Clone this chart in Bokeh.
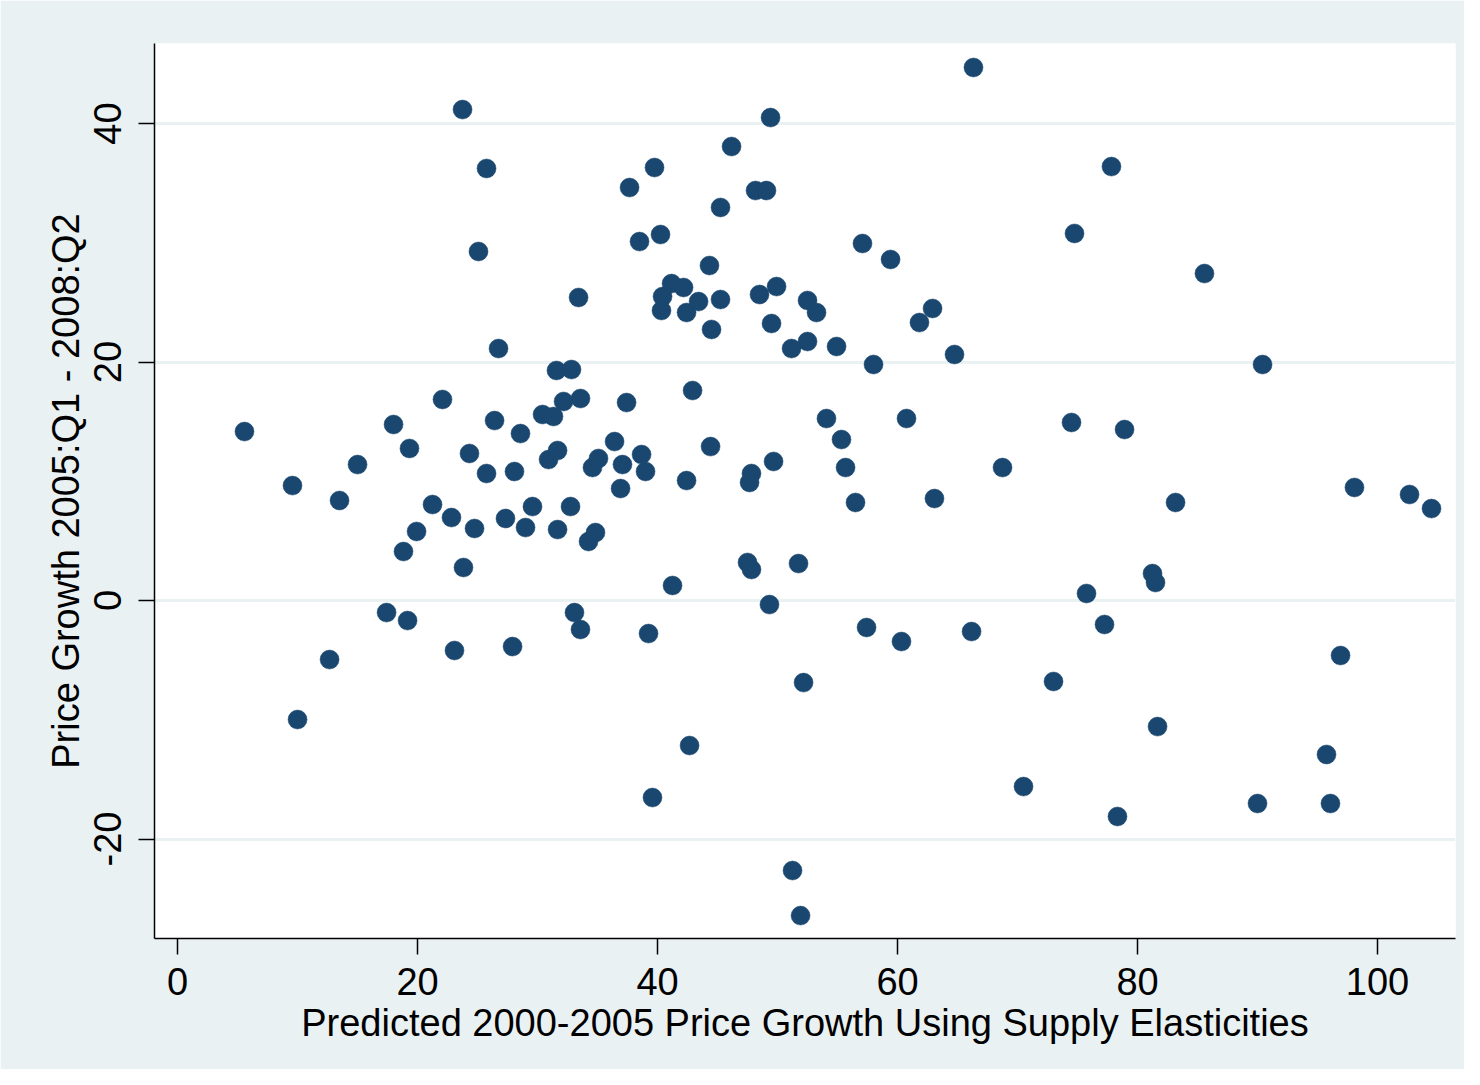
from bokeh.plotting import figure
from bokeh.models import Range1d, FixedTicker, ColumnDataSource
from bokeh.embed import file_html
from bokeh.resources import INLINE

x_title = "Predicted 2000-2005 Price Growth Using Supply Elasticities"
y_title = "Price Growth 2005:Q1 - 2008:Q2"
x_ticks = [0, 20, 40, 60, 80, 100]
y_ticks = [-20, 0, 20, 40]
y_tick_labels = ["-20", "0", "20", "40"]

predicted_growth = [
    5.58, 9.58, 10.0, 12.67, 13.5, 15.0, 17.42, 18.0, 18.83, 19.17,
    19.33, 19.92, 21.25, 22.08, 22.83, 23.08, 23.75, 23.83, 24.33, 24.75,
    25.08, 25.75, 25.75, 26.42, 26.75, 27.33, 27.92, 28.08, 28.58, 29.0,
    29.58, 30.42, 30.92, 31.33, 31.58, 31.67, 31.67, 32.17, 32.75, 32.83,
    33.08, 33.42, 33.58, 33.58, 34.25, 34.58, 34.83, 35.08, 36.42, 36.92,
    37.08, 37.42, 37.67, 38.5, 38.67, 39.0, 39.25, 39.58, 39.75, 40.25,
    40.42, 40.33, 41.17, 41.25, 42.17, 42.42, 42.42, 42.67, 42.92, 43.42,
    44.33, 44.42, 44.5, 45.25, 45.25, 46.17, 47.5, 47.67, 47.83, 47.83,
    48.17, 48.5, 49.08, 49.33, 49.42, 49.5, 49.67, 49.92, 51.17, 51.25,
    51.75, 51.92, 52.17, 52.5, 52.5, 53.25, 54.08, 54.92, 55.33, 55.67,
    56.5, 57.08, 57.42, 58.0, 59.42, 60.33, 60.75, 61.83, 62.92, 63.08,
    64.75, 66.17, 66.33, 68.75, 70.5, 73.0, 74.5, 74.75, 75.75, 77.25,
    77.83, 78.92, 78.33, 81.25, 81.5, 81.67, 83.17, 85.58, 90.0, 90.42,
    95.75, 96.08, 96.92, 98.08, 102.67, 104.5,
]
actual_growth = [
    14.17, 9.64, -9.98, -4.95, 8.39, 11.40, -1.01, 14.76, 4.11, -1.68,
    12.75, 5.79, 8.05, 16.86, 6.96, -4.19, 41.17, 2.77, 12.33, 6.04,
    29.27, 36.23, 10.65, 15.09, 21.13, 6.88, -3.86, 10.82, 14.0, 6.12,
    7.88, 15.6, 11.82, 15.43, 19.29, 12.58, 5.95, 16.69, 7.88, 19.37,
    -1.01, 25.41, 16.94, -2.43, 4.95, 11.15, 5.70, 11.91, 13.33, 9.39,
    11.40, 16.60, 34.63, 30.10, 12.24, 10.82, -2.77, -16.52, 36.31, 30.69,
    25.49, 24.32, 26.58, 1.26, 26.25, 24.15, 10.06, -12.16, 17.61, 25.07,
    28.09, 12.91, 22.73, 32.96, 25.24, 38.07, 3.19, 9.90, 10.65, 2.60,
    34.38, 25.66, 34.38, -0.34, 40.50, 23.23, 11.66, 26.33, 21.13, -22.64,
    3.10, -26.42, -6.88, 25.16, 21.72, 24.15, 15.26, 21.30, 13.50, 11.15,
    8.22, 29.94, -2.26, 19.79, 28.60, -3.44, 15.26, 23.31, 24.49, 8.55,
    20.63, -2.60, 44.70, 11.15, -15.60, -6.79, 14.93, 30.78, 0.59, -2.01,
    36.39, 14.34, -18.11, 2.26, 1.51, -10.57, 8.22, 27.42, -17.02, 19.79,
    -12.91, -17.02, -4.61, 9.48, 8.89, 7.71,
]

BG = "#EAF1F3"
NAVY = "#1A476F"
FONT = "Liberation Sans"
FS = "38px"

source = ColumnDataSource(data=dict(x=predicted_growth, y=actual_growth))

p = figure(
    width=1464, height=1069,
    x_range=Range1d(-1.92, 106.5), y_range=Range1d(-28.34, 46.71),
    output_backend="svg", toolbar_location=None,
    min_border_left=154, min_border_right=9,
    min_border_top=43, min_border_bottom=131,
)
p.border_fill_color = BG
p.background_fill_color = "white"
p.outline_line_color = None

p.scatter("x", "y", source=source, size=19, fill_color=NAVY,
          line_color=NAVY, line_width=0.5)

p.xgrid.visible = False
p.ygrid.ticker = FixedTicker(ticks=y_ticks)
p.ygrid.grid_line_color = BG
p.ygrid.grid_line_width = 3

p.xaxis.ticker = FixedTicker(ticks=x_ticks)
p.yaxis.ticker = FixedTicker(ticks=y_ticks)
p.yaxis.major_label_overrides = {t: s for t, s in zip(y_ticks, y_tick_labels)}
p.xaxis.axis_label = x_title
p.yaxis.axis_label = y_title
p.yaxis.major_label_orientation = "vertical"

for ax in (p.xaxis, p.yaxis):
    ax.axis_line_color = "black"
    ax.axis_line_width = 1.5
    ax.major_tick_line_color = "black"
    ax.major_tick_line_width = 1.5
    ax.major_tick_in = 0
    ax.major_tick_out = 16
    ax.minor_tick_line_color = None
    ax.major_label_text_font = FONT
    ax.major_label_text_font_size = FS
    ax.major_label_text_color = "black"
    ax.axis_label_text_font = FONT
    ax.axis_label_text_font_size = FS
    ax.axis_label_text_font_style = "normal"
    ax.axis_label_text_color = "black"

p.xaxis.major_label_standoff = 13
p.xaxis.axis_label_standoff = 4
p.yaxis.major_label_standoff = 17
p.yaxis.axis_label_standoff = 5

open("out.html", "w").write(file_html(p, INLINE))
